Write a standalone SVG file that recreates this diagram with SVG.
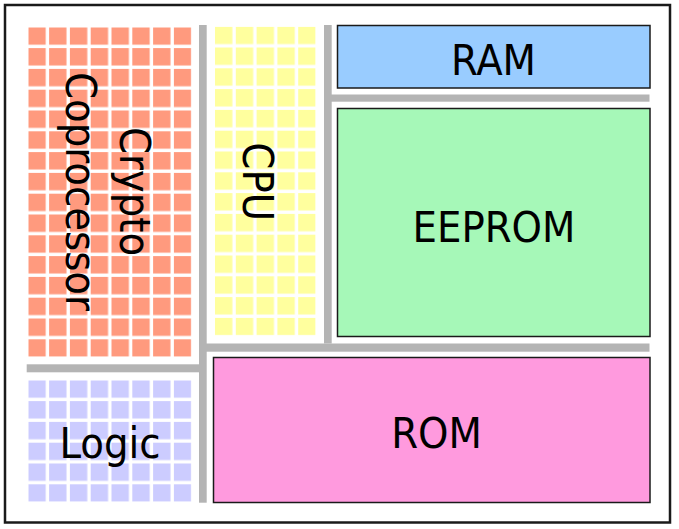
<svg xmlns="http://www.w3.org/2000/svg" width="679" height="529" viewBox="0 0 679 529">
<style>
.lbl{font-family:'DejaVu Sans Condensed','DejaVu Sans',sans-serif;font-stretch:condensed;font-size:43px;fill:#000;text-anchor:middle}
.box{stroke:#1a1a1a;stroke-width:1.5}
.bus{fill:#b4b4b4}
</style>
<defs>
<pattern id="pCrypto" patternUnits="userSpaceOnUse" x="28.3" y="27.3" width="20.8" height="20.8"><rect width="17.4" height="17.4" fill="#ff9a7e"/></pattern>
<pattern id="pLogic" patternUnits="userSpaceOnUse" x="28.3" y="380.3" width="20.8" height="20.8"><rect width="17.4" height="17.4" fill="#ccccff"/></pattern>
<pattern id="pCPU" patternUnits="userSpaceOnUse" x="215" y="26.7" width="20.8" height="20.8"><rect width="17.4" height="17.4" fill="#ffff9e"/></pattern>
</defs>
<rect x="5" y="5" width="665" height="517.5" fill="#fff" stroke="#1a1a1a" stroke-width="2.5"/>
<g id="buses">
<rect class="bus" x="199" y="25" width="7.7" height="477.7"/>
<rect class="bus" x="26.7" y="364.3" width="173" height="8"/>
<rect class="bus" x="324" y="25" width="7.7" height="318.5"/>
<rect class="bus" x="331" y="94.5" width="318.5" height="7.2"/>
<rect class="bus" x="206" y="343.5" width="443.5" height="8.2"/>
</g>
<g id="crypto">
<rect x="28.3" y="27.3" width="163" height="329.4" fill="url(#pCrypto)"/>
<text class="lbl" transform="translate(119.5,191.5) rotate(90)"><tspan x="0" y="0">Crypto</tspan><tspan x="0" y="53.5">Coprocessor</tspan></text>
</g>
<g id="logic">
<rect x="28.3" y="380.3" width="163" height="121.4" fill="url(#pLogic)"/>
<text class="lbl" x="110" y="458.3">Logic</text>
</g>
<g id="cpu">
<rect x="215" y="26.7" width="100.6" height="308.6" fill="url(#pCPU)"/>
<text class="lbl" transform="translate(242.5,181.7) rotate(90)">CPU</text>
</g>
<g id="ram">
<rect class="box" x="337.5" y="25.5" width="312.5" height="62.5" fill="#99ccff"/>
<text class="lbl" x="493.5" y="75">RAM</text>
</g>
<g id="eeprom">
<rect class="box" x="337.5" y="108.5" width="312.5" height="228" fill="#a6f8b8"/>
<text class="lbl" x="494" y="241.5">EEPROM</text>
</g>
<g id="rom">
<rect class="box" x="213.5" y="357.5" width="436.5" height="145" fill="#ff9ade"/>
<text class="lbl" x="436.5" y="447.7">ROM</text>
</g>
</svg>
